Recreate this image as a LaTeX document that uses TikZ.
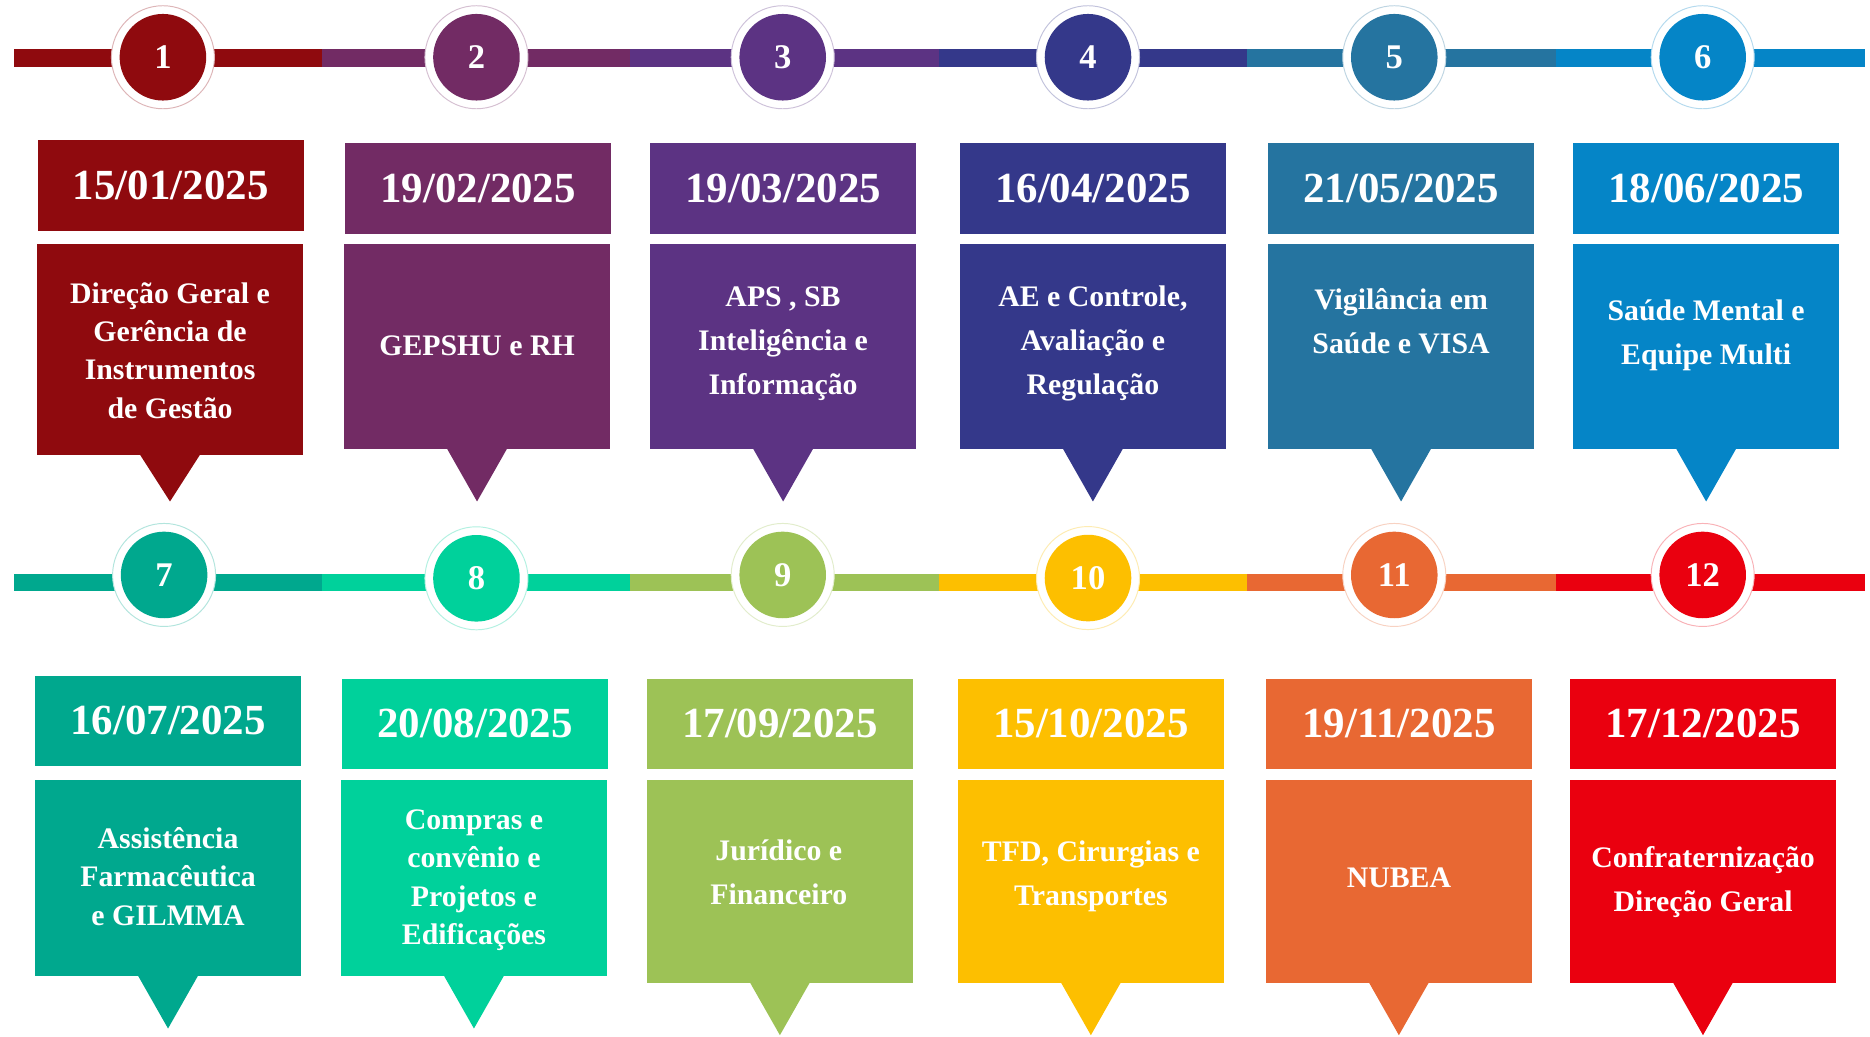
\documentclass[tikz,border=0pt]{standalone}
\usepackage{fontspec}
\setmainfont{Liberation Serif}
\usetikzlibrary{fit}
\definecolor{c1}{HTML}{8F0A0E}
\definecolor{c2}{HTML}{722B64}
\definecolor{c3}{HTML}{5C3383}
\definecolor{c4}{HTML}{34388A}
\definecolor{c5}{HTML}{2574A0}
\definecolor{c6}{HTML}{0585C7}
\definecolor{c7}{HTML}{00A88E}
\definecolor{c8}{HTML}{00D19B}
\definecolor{c9}{HTML}{9DC256}
\definecolor{c10}{HTML}{FDBF00}
\definecolor{c11}{HTML}{E86833}
\definecolor{c12}{HTML}{EA000F}
\tikzset{
  ring/.style={circle, draw=#1!30, line width=0.8pt, fill=white, minimum size=86.4pt, inner sep=0pt},
  dot/.style={circle, fill=#1, minimum size=72.6pt, inner sep=0pt, text=white,
    font=\fontsize{29}{30}\selectfont\bfseries},
  cbox/.style={rectangle, fill=#1, inner sep=0pt, outer sep=0pt},
  datetext/.style={text=white, inner sep=0pt, anchor=center,
    font=\fontsize{36}{40}\selectfont\bfseries},
  ctext/.style={text=white, align=center, inner sep=0pt, font=\fontsize{25}{32}\selectfont\bfseries},
  ctextw/.style={text=white, align=center, inner sep=0pt, font=\fontsize{25}{37}\selectfont\bfseries},
  seg/.style={fill=#1},
}
\begin{document}
\begin{tikzpicture}[x=1pt,y=-1pt]
\fill[white] (0,0) rectangle (1568,869.5);
\useasboundingbox (0,0) rectangle (1568,869.5);

% ---------- timeline lines ----------
\fill[seg=c1] (11.6,41.5) rectangle (269.6,56.1);
\fill[seg=c2] (269.6,41.5) rectangle (528.3,56.1);
\fill[seg=c3] (528.3,41.5) rectangle (787.7,56.1);
\fill[seg=c4] (787.7,41.5) rectangle (1045.4,56.1);
\fill[seg=c5] (1045.4,41.5) rectangle (1304.4,56.1);
\fill[seg=c6] (1304.4,41.5) rectangle (1563.7,56.1);

\fill[seg=c7] (11.6,481.3) rectangle (269.6,495.9);
\fill[seg=c8] (269.6,481.3) rectangle (528.3,495.9);
\fill[seg=c9] (528.3,481.3) rectangle (787.7,495.9);
\fill[seg=c10] (787.7,481.3) rectangle (1045.4,495.9);
\fill[seg=c11] (1045.4,481.3) rectangle (1304.4,495.9);
\fill[seg=c12] (1304.4,481.3) rectangle (1563.7,495.9);

% ---------- circles ----------
\node[ring=c1] (r1) at (136.6,48) {};   \node[dot=c1] (n1) at (r1) {1};
\node[ring=c2] (r2) at (399.5,48) {};   \node[dot=c2] (n2) at (r2) {2};
\node[ring=c3] (r3) at (656.3,48) {};   \node[dot=c3] (n3) at (r3) {3};
\node[ring=c4] (r4) at (912.3,48) {};   \node[dot=c4] (n4) at (r4) {4};
\node[ring=c5] (r5) at (1169.1,48) {};  \node[dot=c5] (n5) at (r5) {5};
\node[ring=c6] (r6) at (1427.7,48) {};  \node[dot=c6] (n6) at (r6) {6};

\node[ring=c7] (r7) at (137.6,482.1) {};   \node[dot=c7] (n7) at (r7) {7};
\node[ring=c8] (r8) at (399.5,484.9) {};   \node[dot=c8] (n8) at (r8) {8};
\node[ring=c9] (r9) at (656.3,482.1) {};   \node[dot=c9] (n9) at (r9) {9};
\node[ring=c10] (r10) at (912.3,484.7) {}; \node[dot=c10] (n10) at (r10) {10};
\node[ring=c11] (r11) at (1169.1,482.1) {};\node[dot=c11] (n11) at (r11) {11};
\node[ring=c12] (r12) at (1427.7,482.1) {};\node[dot=c12] (n12) at (r12) {12};

% ---------- date boxes ----------
\node[cbox=c1, fit={(31.8,117.4) (254.6,193.4)}] (d1) {};
\node[cbox=c2, fit={(289.4,120.2) (512.3,196.2)}] (d2) {};
\node[cbox=c3, fit={(545.1,120.2) (768.2,196.2)}] (d3) {};
\node[cbox=c4, fit={(804.9,120.2) (1027.9,196.2)}] (d4) {};
\node[cbox=c5, fit={(1063.4,120.2) (1286.2,196.2)}] (d5) {};
\node[cbox=c6, fit={(1319,120.2) (1542.2,196.2)}] (d6) {};

\node[cbox=c7, fit={(29.5,566.6) (252.3,642.3)}] (d7) {};
\node[cbox=c8, fit={(286.8,569.1) (509.9,644.5)}] (d8) {};
\node[cbox=c9, fit={(542.4,569.1) (765.5,644.5)}] (d9) {};
\node[cbox=c10, fit={(803.2,569.1) (1026.2,644.5)}] (d10) {};
\node[cbox=c11, fit={(1061.4,569.1) (1284.5,644.5)}] (d11) {};
\node[cbox=c12, fit={(1316.4,569.1) (1539.5,644.5)}] (d12) {};

\node[datetext] (dt1) at (d1.center) {15/01/2025};
\node[datetext] (dt2) at (d2.center) {19/02/2025};
\node[datetext] (dt3) at (d3.center) {19/03/2025};
\node[datetext] (dt4) at (d4.center) {16/04/2025};
\node[datetext] (dt5) at (d5.center) {21/05/2025};
\node[datetext] (dt6) at (d6.center) {18/06/2025};
\node[datetext] (dt7) at (d7.center) {16/07/2025};
\node[datetext] (dt8) at (d8.center) {20/08/2025};
\node[datetext] (dt9) at (d9.center) {17/09/2025};
\node[datetext] (dt10) at (d10.center) {15/10/2025};
\node[datetext] (dt11) at (d11.center) {19/11/2025};
\node[datetext] (dt12) at (d12.center) {17/12/2025};

% ---------- content boxes ----------
\node[cbox=c1, fit={(31.2,204.6) (253.9,381.5)}] (b1) {};
\node[cbox=c2, fit={(288.4,204.6) (511.6,376.5)}] (b2) {};
\node[cbox=c3, fit={(545.1,204.6) (768.2,376.5)}] (b3) {};
\node[cbox=c4, fit={(804.9,204.6) (1027.9,376.5)}] (b4) {};
\node[cbox=c5, fit={(1063.4,204.6) (1286.2,376.5)}] (b5) {};
\node[cbox=c6, fit={(1319,204.6) (1542.2,376.5)}] (b6) {};

\node[cbox=c7, fit={(29.5,653.8) (252.3,818.4)}] (b7) {};
\node[cbox=c8, fit={(285.8,653.8) (509,818.4)}] (b8) {};
\node[cbox=c9, fit={(542.4,653.8) (765.5,824)}] (b9) {};
\node[cbox=c10, fit={(803.2,653.8) (1026.2,824)}] (b10) {};
\node[cbox=c11, fit={(1061.4,653.8) (1284.5,824)}] (b11) {};
\node[cbox=c12, fit={(1316.4,653.8) (1539.5,824)}] (b12) {};

% ---------- pointers ----------
\fill[c1] ([xshift=-25pt]b1.south) -- ([xshift=25pt]b1.south) -- ([yshift=-39pt]b1.south) -- cycle;
\foreach \i/\c in {2/c2,3/c3,4/c4,5/c5,6/c6,7/c7,8/c8,9/c9,10/c10,11/c11,12/c12}{
  \fill[\c] ([xshift=-25pt]b\i.south) -- ([xshift=25pt]b\i.south) -- ([yshift=-44pt]b\i.south) -- cycle;
}

% ---------- content texts ----------
\node[ctext] (t1) at (142.6,294) {Direção Geral e\\Gerência de\\Instrumentos\\de Gestão};
\node[ctext] (t2) at (400,290) {GEPSHU e RH};
\node[ctextw] (t3) at (656.6,288) {APS , SB\\Inteligência e\\Informação};
\node[ctextw] (t4) at (916.4,288) {AE e Controle,\\Avaliação e\\Regulação};
\node[ctextw] (t5) at (1174.8,269.5) {Vigilância em\\Saúde e VISA};
\node[ctextw] (t6) at (1430.6,281.5) {Saúde Mental e\\Equipe Multi};

\node[ctext] (t7) at (140.9,735) {Assistência\\Farmacêutica\\e GILMMA};
\node[ctext] (t8) at (397.4,738) {Compras e\\convênio e\\Projetos e\\Edificações};
\node[ctextw] (t9) at (653,731.5) {Jurídico e\\Financeiro};
\node[ctextw] (t10) at (914.7,734.5) {TFD, Cirurgias e\\Transportes};
\node[ctext] (t11) at (1173,736) {NUBEA};
\node[ctextw] (t12) at (1428,739.5) {Confraternização\\Direção Geral};
\end{tikzpicture}
\end{document}
